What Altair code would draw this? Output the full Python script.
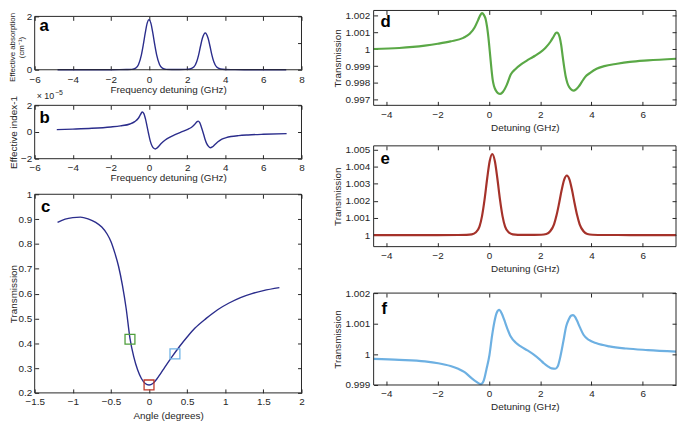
import altair as alt
import pandas as pd

# ---------------- data ----------------
# (a) effective absorption (cm^-1) vs frequency detuning (GHz)
a_x = [-4.8, -3.0, -2.0, -1.2, -0.9, -0.7, -0.55, -0.4, -0.3, -0.2, -0.1, 0.0, 0.1, 0.2, 0.3, 0.4, 0.55, 0.7, 0.9, 1.2,
       1.6, 1.9, 2.15, 2.35, 2.5, 2.6, 2.7, 2.8, 2.95, 3.1, 3.2, 3.3, 3.4, 3.55, 3.75, 4.0, 4.4, 5.0, 6.0, 7.2]
a_y = [0.0, 0.0, 0.002, 0.01, 0.015, 0.06, 0.2, 0.56, 0.94, 1.37, 1.74, 1.88, 1.74, 1.37, 0.94, 0.56, 0.2, 0.06, 0.015, 0.01,
       0.01, 0.015, 0.03, 0.1, 0.3, 0.55, 0.88, 1.18, 1.38, 1.18, 0.88, 0.55, 0.3, 0.1, 0.03, 0.01, 0.005, 0.0, 0.0, 0.0]

# (b) effective index - 1 (x 1e-5) vs frequency detuning (GHz)
b_x = [-4.84, -4.0, -3.0, -2.0, -1.5, -1.0, -0.75, -0.55, -0.45, -0.36, -0.27, -0.19, -0.1, -0.02, 0.07, 0.16, 0.25, 0.33,
       0.42, 0.5, 0.65, 0.85, 1.1, 1.37, 1.65, 1.9, 2.1, 2.25, 2.4, 2.5, 2.58, 2.66, 2.74, 2.84, 2.93, 3.02, 3.12, 3.22,
       3.32, 3.45, 3.6, 3.8, 4.05, 4.3, 4.7, 5.2, 6.0, 7.22]
b_y = [0.18, 0.22, 0.28, 0.38, 0.46, 0.6, 0.78, 1.05, 1.3, 1.5, 1.38, 1.0, 0.4, -0.15, -0.7, -1.05, -1.22, -1.27,
       -1.2, -1.08, -0.85, -0.6, -0.38, -0.2, -0.02, 0.12, 0.25, 0.38, 0.58, 0.75, 0.82, 0.7, 0.4, -0.05, -0.5, -0.85,
       -1.08, -1.18, -1.12, -0.95, -0.75, -0.55, -0.42, -0.34, -0.27, -0.22, -0.17, -0.12]

# (c) transmission vs angle (degrees)
c_x = [-1.2, -1.1, -1.0, -0.9, -0.8, -0.7, -0.62, -0.55, -0.5, -0.45, -0.4, -0.35, -0.3, -0.25, -0.2, -0.15, -0.1,
       -0.05, 0.0, 0.05, 0.1, 0.15, 0.2, 0.3, 0.4, 0.5, 0.6, 0.75, 0.9, 1.05, 1.2, 1.35, 1.5, 1.71]
c_y = [0.887, 0.9, 0.906, 0.908, 0.901, 0.887, 0.868, 0.84, 0.81, 0.765, 0.71, 0.635, 0.54, 0.42, 0.345, 0.293, 0.258,
       0.238, 0.232, 0.238, 0.255, 0.277, 0.3, 0.345, 0.387, 0.425, 0.46, 0.5, 0.535, 0.562, 0.584, 0.6, 0.612, 0.624]
sq_x = [-0.25, 0.0, 0.34]
sq_y = [0.416, 0.232, 0.357]
sq_key = ["d", "e", "f"]

# (d) transmission vs detuning (GHz)
d_x = [-4.5, -3.5, -2.5, -2.0, -1.5, -1.0, -0.75, -0.56, -0.42, -0.33, -0.27, -0.2, -0.13, -0.07, 0.0, 0.05, 0.1, 0.15,
       0.2, 0.27, 0.35, 0.44, 0.55, 0.7, 0.85, 1.05, 1.24, 1.45, 1.62, 1.8, 2.0, 2.2, 2.4, 2.52, 2.6, 2.65, 2.7, 2.76,
       2.82, 2.88, 2.94, 3.0, 3.06, 3.13, 3.2, 3.3, 3.4, 3.5, 3.62, 3.75, 3.95, 4.2, 4.5, 5.0, 5.5, 6.2, 7.3]
d_y = [1.00002, 1.00008, 1.00022, 1.00033, 1.00047, 1.00068, 1.00092, 1.0013, 1.00175, 1.00205, 1.00215, 1.00205,
       1.0018, 1.0013, 1.0004, 0.9996, 0.9988, 0.99815, 0.9978, 0.99755, 0.9974, 0.99735, 0.99748, 0.9979, 0.9985,
       0.99885, 0.99909, 0.9993, 0.99946, 0.99962, 0.99982, 1.00008, 1.00045, 1.00075, 1.00095, 1.001, 1.00095,
       1.00072, 1.00025, 0.99955, 0.9989, 0.99835, 0.998, 0.99776, 0.99762, 0.99754, 0.99762, 0.99778, 0.99805,
       0.99835, 0.9986, 0.99884, 0.999, 0.99914, 0.99925, 0.99934, 0.99944]

# (e) transmission vs detuning (GHz)
e_x = [-4.5, -2.0, -1.2, -0.87, -0.67, -0.52, -0.37, -0.27, -0.17, -0.07, 0.03, 0.13, 0.23, 0.33, 0.43, 0.53, 0.63,
       0.78, 0.93, 1.13, 1.5, 2.04, 2.24, 2.39, 2.54, 2.64, 2.74, 2.84, 2.94, 3.04, 3.14, 3.24, 3.34, 3.44, 3.54, 3.69,
       3.84, 4.04, 4.5, 5.5, 7.3]
e_y = [1.0, 1.0, 1.000003, 1.00001, 1.00004, 1.00015, 1.00049, 1.00111, 1.00209, 1.0033, 1.00434, 1.00475, 1.00434,
       1.0033, 1.00209, 1.00111, 1.00049, 1.00015, 1.00004, 1.00001, 1.000005, 1.000015, 1.00006, 1.00022, 1.00063,
       1.00117, 1.00188, 1.00265, 1.00326, 1.00349, 1.00326, 1.00265, 1.00188, 1.00117, 1.00063, 1.00022, 1.00006,
       1.000015, 1.000003, 1.0, 1.0]

# (f) transmission vs detuning (GHz)
f_x = [-4.5, -3.5, -2.5, -1.98, -1.5, -1.2, -0.95, -0.69, -0.5, -0.31, -0.2, -0.1, 0.02, 0.12, 0.21, 0.3, 0.4, 0.5,
       0.59, 0.7, 0.85, 1.05, 1.24, 1.5, 1.75, 2.0, 2.14, 2.3, 2.45, 2.59, 2.68, 2.78, 2.91, 3.01, 3.11, 3.2, 3.28,
       3.36, 3.43, 3.55, 3.69, 3.9, 4.2, 4.7, 5.36, 6.2, 7.3]
f_y = [0.99985, 0.99982, 0.99977, 0.99971, 0.99962, 0.99953, 0.99942, 0.99923, 0.99911, 0.99903, 0.99915, 0.9995,
       0.99998, 1.0006, 1.00105, 1.00135, 1.00145, 1.00133, 1.00114, 1.00088, 1.00058, 1.00038, 1.00026, 1.00013,
       0.99999, 0.99982, 0.99971, 0.99961, 0.99954, 0.99953, 0.9996, 0.9999, 1.00045, 1.0009, 1.00113, 1.00126,
       1.00128, 1.00122, 1.00111, 1.00088, 1.00064, 1.00047, 1.00036, 1.00026, 1.00019, 1.00014, 1.00009]

# tick values
freq_ticks = [-6, -4, -2, 0, 2, 4, 6, 8]
det_ticks = [-4, -2, 0, 2, 4, 6]
angle_ticks = [-1.5, -1.0, -0.5, 0.0, 0.5, 1.0, 1.5, 2.0]
a_ticks = [0, 1, 2]
b_ticks = [-2, 0, 2]
c_ticks = [0.2, 0.3, 0.4, 0.5, 0.6, 0.7, 0.8, 0.9, 1.0]
d_ticks = [0.997, 0.998, 0.999, 1.0, 1.001, 1.002]
e_ticks = [1.0, 1.001, 1.002, 1.003, 1.004, 1.005]
f_ticks = [0.999, 1.0, 1.001, 1.002]

# ---------------- styling / layout ----------------
FONT = "Liberation Sans"
INK = "#262626"
NAVY = "#2b2d8c"
GREEN = "#5aa846"
RED = "#a5322a"
SKY = "#6db0e2"
SQ_COLORS = ["#4f9f3d", "#c0392b", "#6fb3e6"]
W, H = 649, 387
T = 4
ONE = pd.DataFrame({"k": [0]})


def panel(x, y, xdom, ydom, box, xvals, yvals, xfmt, yfmt, xtitle, ytitle, color, sw,
          ytx, xty, xpad, ypad, letter, lxy, yaxis_extra=None, extra_fn=None):
    x0, x1, y0, y1 = box
    df = pd.DataFrame({"x": x, "y": y})
    xs = alt.Scale(domain=xdom, range=[x0, x1], nice=False, zero=False)
    ys = alt.Scale(domain=ydom, range=[y1, y0], nice=False, zero=False)
    yax = dict(orient="left", offset=-(x0 + T), values=yvals, format=yfmt, title=ytitle,
               labelPadding=ypad, titleX=ytx)
    if yaxis_extra:
        yax.update(yaxis_extra)
    main = alt.Chart(df).mark_line(color=color, strokeWidth=sw, interpolate="monotone").encode(
        x=alt.X("x:Q", scale=xs, axis=alt.Axis(orient="bottom", offset=y1 - T - H, values=xvals,
                                               format=xfmt, title=xtitle, labelPadding=xpad, titleY=xty)),
        y=alt.Y("y:Q", scale=ys, axis=alt.Axis(**yax)))
    mirror = alt.Chart(df).mark_point(opacity=0).encode(
        x=alt.X("x:Q", scale=xs, axis=alt.Axis(orient="top", offset=-(y0 + T), values=xvals,
                                               labels=False, title="")),
        y=alt.Y("y:Q", scale=ys, axis=alt.Axis(orient="right", offset=x1 - T - W, values=yvals,
                                               labels=False, title="")))
    frame = alt.Chart(ONE).mark_rect(fillOpacity=0, stroke=INK, strokeWidth=1).encode(
        x=alt.value(x0), x2=alt.value(x1), y=alt.value(y0), y2=alt.value(y1))
    tag = alt.Chart(ONE).mark_text(text=letter, font=FONT, fontSize=17, fontWeight="bold", align="left",
                                   baseline="alphabetic", color="black").encode(
        x=alt.value(lxy[0]), y=alt.value(lxy[1]))
    layers = [main, mirror]
    if extra_fn is not None:
        layers += extra_fn(xs, ys)
    layers += [frame, tag]
    return alt.layer(*layers).resolve_axis(x="independent", y="independent")


def squares(xs, ys):
    sdf = pd.DataFrame({"x": sq_x, "y": sq_y, "k": sq_key})
    return [alt.Chart(sdf).mark_square(size=100, filled=False, strokeWidth=1.3, opacity=1).encode(
        x=alt.X("x:Q", scale=xs, axis=None),
        y=alt.Y("y:Q", scale=ys, axis=None),
        stroke=alt.Stroke("k:N", scale=alt.Scale(domain=sq_key, range=SQ_COLORS), legend=None))]


def exponent(xs, ys):
    t1 = alt.Chart(ONE).mark_text(text="\u00d7 10", font=FONT, fontSize=9, align="left",
                                  baseline="alphabetic", color=INK).encode(x=alt.value(2), y=alt.value(90))
    t2 = alt.Chart(ONE).mark_text(text="\u22125", font=FONT, fontSize=7, align="left",
                                  baseline="alphabetic", color=INK).encode(x=alt.value(20.5), y=alt.value(86))
    return [t1, t2]


pa = panel(a_x, a_y, [-6, 8], [0, 2], (0, 270, 6, 60), freq_ticks, a_ticks, "d", "d",
           "Frequency detuning (GHz)", ["Effective absorption", "(cm\u207b\u00b9)"], NAVY, 1.4,
           ytx=-22.5, xty=19, xpad=5, ypad=3, letter="a", lxy=(5, 21),
           yaxis_extra={"titleY": 37, "titleFontSize": 8, "titleLineHeight": 9})
pb = panel(b_x, b_y, [-6, 8], [-2, 2], (0, 270, 96, 150), freq_ticks, b_ticks, "d", "d",
           "Frequency detuning (GHz)", "Effective index-1", NAVY, 1.4,
           ytx=-20, xty=18, xpad=3.6, ypad=3, letter="b", lxy=(5, 114), extra_fn=exponent)
pc = panel(c_x, c_y, [-1.5, 2], [0.2, 1.0], (0, 270, 186, 387), angle_ticks, c_ticks, ".1~f", ".1~f",
           "Angle (degrees)", "Transmission", NAVY, 1.4,
           ytx=-20, xty=22, xpad=4, ypad=3, letter="c", lxy=(6.5, 203.5), extra_fn=squares)
pd_ = panel(d_x, d_y, [-4.5, 7.3], [0.99667, 1.00231], (343, 649, 0, 96), det_ticks, d_ticks, "d", ".3~f",
            "Detuning (GHz)", "Transmission", GREEN, 2.2,
            ytx=-36, xty=21, xpad=4, ypad=4, letter="d", lxy=(350, 17))
pe = panel(e_x, e_y, [-4.5, 7.3], [0.99932, 1.00523], (343, 649, 137, 239), det_ticks, e_ticks, "d", ".3~f",
           "Detuning (GHz)", "Transmission", RED, 2.2,
           ytx=-36, xty=21, xpad=4, ypad=4, letter="e", lxy=(350, 155))
pf = panel(f_x, f_y, [-4.5, 7.3], [0.999, 1.002], (343, 649, 286, 379), det_ticks, f_ticks, "d", ".3~f",
           "Detuning (GHz)", "Transmission", SKY, 2.2,
           ytx=-36, xty=21, xpad=4, ypad=4, letter="f", lxy=(351, 307))

chart = alt.layer(pa, pb, pc, pd_, pe, pf).resolve_scale(
    x="independent", y="independent"
).resolve_axis(
    x="independent", y="independent"
).properties(
    width=W, height=H,
    autosize=alt.AutoSizeParams(type="none"),
    padding={"left": 27, "top": 0, "right": 1, "bottom": 30},
).configure_view(
    stroke="transparent"
).configure_axis(
    labelFont=FONT, titleFont=FONT, labelFontSize=10, titleFontSize=10,
    labelColor=INK, titleColor=INK, tickColor=INK, tickSize=T, tickWidth=1,
    titleFontWeight="normal", domain=False, grid=False, labelFlush=False, labelOverlap=False,
    labelBound=False
)

chart.save("out.html", embed_options={"renderer": "svg", "actions": False})
